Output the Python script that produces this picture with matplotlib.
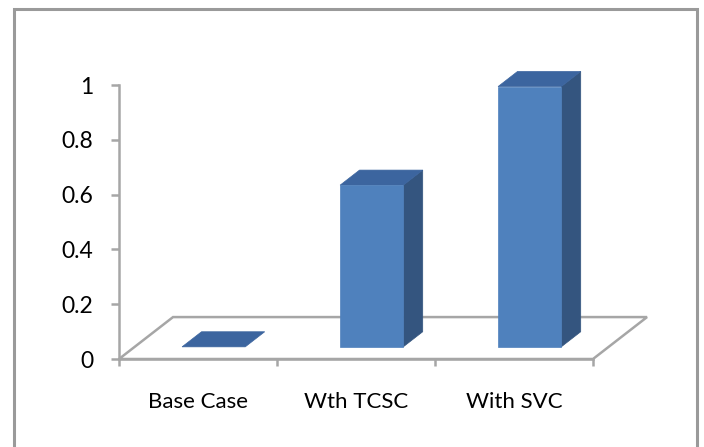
import matplotlib
matplotlib.use("Agg")
import matplotlib.pyplot as plt
from matplotlib.patches import Polygon, Rectangle

plt.rcParams['font.family'] = ['Lato', 'DejaVu Sans']

# Data
categories = ["Base Case", "Wth TCSC", "With SVC"]
values = [0.0, 0.59, 0.95]
y_ticks = [0, 0.2, 0.4, 0.6, 0.8, 1]
y_tick_labels = ["0", "0.2", "0.4", "0.6", "0.8", "1"]

# Pseudo-3D geometry (in data units): how far the floor recedes
DEPTH_X = 0.342     # horizontal shift per full floor depth (categories)
DEPTH_Y = 0.153     # vertical shift per full floor depth (value units)
BAR_W = 0.40        # bar width in categories
BAR_D0, BAR_D1 = 0.29, 0.65   # bar depth span as fraction of floor depth

FRONT = "#4f81bd"
SIDE = "#34557f"
TOP = "#3c659f"
GRID = "#a6a6a6"

W, H = 704, 447
fig = plt.figure(figsize=(W / 100, H / 100), dpi=100)
fig.patch.set_facecolor("white")

# Outer chart frame
fig.add_artist(Rectangle((14 / W, -0.05), (697 - 14) / W, (H - 9) / H + 0.05,
                         transform=fig.transFigure, fill=False,
                         edgecolor="#9a9a9a", linewidth=2.2))

ax = fig.add_axes([119 / W, (H - 359) / H, (593 - 119) / W, (359 - 85) / H])
ax.set_xlim(-0.5, len(categories) - 0.5)
ax.set_ylim(0, 1)
ax.patch.set_alpha(0)


def pt(x, y, d):
    """Project a point at depth fraction d onto the axes plane."""
    return (x + d * DEPTH_X, y + d * DEPTH_Y)


# Floor
x0, x1 = -0.5, len(categories) - 0.5
floor = Polygon([pt(x0, 0, 0), pt(x1, 0, 0), pt(x1, 0, 1), pt(x0, 0, 1)],
                closed=True, facecolor="white", edgecolor=GRID,
                linewidth=1.8, clip_on=False, zorder=1)
ax.add_patch(floor)

# Bars
for i, v in enumerate(values):
    l, r = i - BAR_W / 2, i + BAR_W / 2
    top = Polygon([pt(l, v, BAR_D0), pt(r, v, BAR_D0),
                   pt(r, v, BAR_D1), pt(l, v, BAR_D1)],
                  closed=True, facecolor=TOP, edgecolor=TOP, linewidth=0.5,
                  clip_on=False, zorder=3)
    if v > 0:
        side = Polygon([pt(r, 0, BAR_D0), pt(r, 0, BAR_D1),
                        pt(r, v, BAR_D1), pt(r, v, BAR_D0)],
                       closed=True, facecolor=SIDE, edgecolor=SIDE,
                       linewidth=0.5, clip_on=False, zorder=3)
        front = Polygon([pt(l, 0, BAR_D0), pt(r, 0, BAR_D0),
                         pt(r, v, BAR_D0), pt(l, v, BAR_D0)],
                        closed=True, facecolor=FRONT, edgecolor=FRONT,
                        linewidth=0.5, clip_on=False, zorder=4)
        ax.add_patch(side)
        ax.add_patch(front)
    ax.add_patch(top)

# Axes styling
for s in ("top", "right"):
    ax.spines[s].set_visible(False)
for s in ("left", "bottom"):
    ax.spines[s].set_color(GRID)
    ax.spines[s].set_linewidth(1.8)
    ax.spines[s].set_zorder(2)

ax.set_yticks(y_ticks)
ax.set_yticklabels(y_tick_labels)
ax.tick_params(axis="y", direction="out", length=5.5, width=1.8, color=GRID,
               pad=13, labelsize=16.5, labelcolor="black")

ax.set_xticks([i - 0.5 for i in range(len(categories) + 1)])
ax.set_xticklabels([])
ax.tick_params(axis="x", which="major", direction="out", length=5,
               width=1.8, color=GRID)
ax.set_xticks(range(len(categories)), minor=True)
ax.set_xticklabels(categories, minor=True)
ax.tick_params(axis="x", which="minor", length=0, pad=24, labelsize=16,
               labelcolor="black")

fig.savefig("out.png", dpi=100)
